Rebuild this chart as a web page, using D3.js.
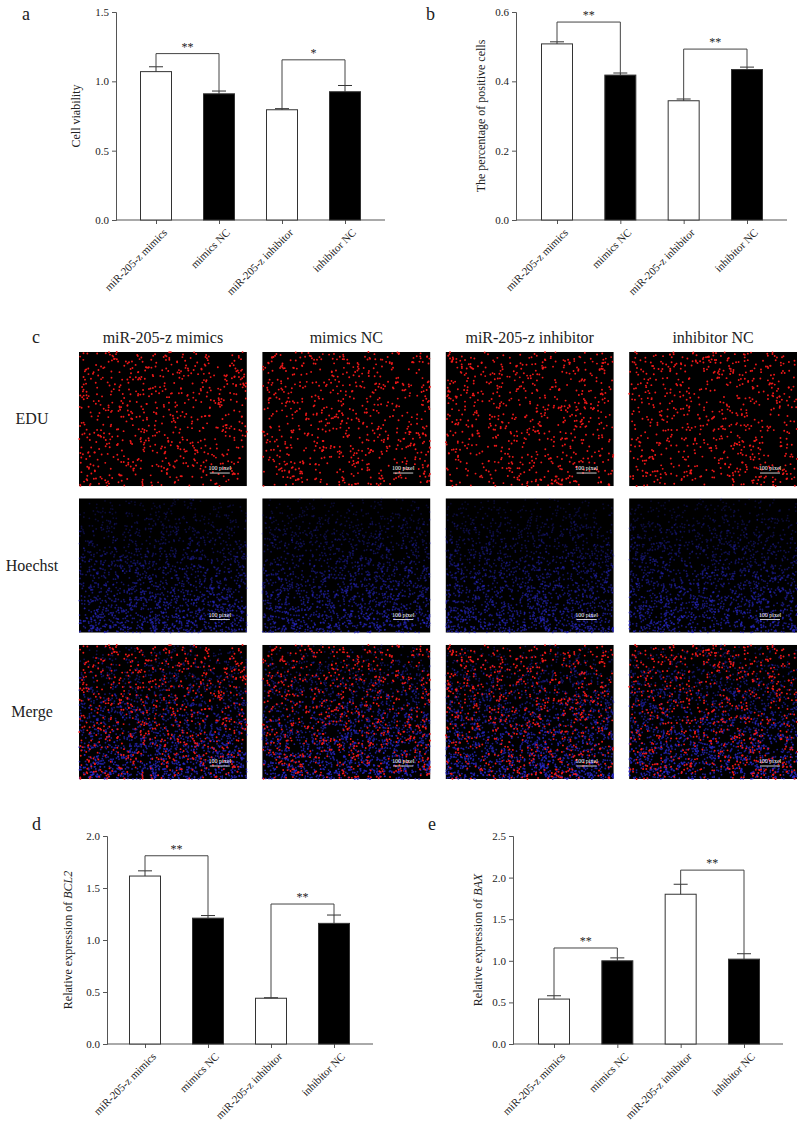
<!DOCTYPE html>
<html><head><meta charset="utf-8">
<script src="https://cdn.jsdelivr.net/npm/d3@7"></script>
<style>body{margin:0;background:#fff}svg{display:block}text{font-family:"Liberation Serif","Times New Roman",serif;fill:#222}</style>
</head><body>
<svg id="c" width="800" height="1127"></svg>
<script>
const categories = ["miR-205-z mimics","mimics NC","miR-205-z inhibitor","inhibitor NC"];
const fills = ["#fff","#000","#fff","#000"];
// panel a
const viabilityMean = [1.07,0.91,0.795,0.925];
const viabilityErr = [0.035,0.02,0.008,0.045];
const viabilityTicks = [0,0.5,1.0,1.5];
// panel b
const positiveMean = [0.508,0.418,0.344,0.434];
const positiveErr = [0.006,0.006,0.005,0.007];
const positiveTicks = [0,0.2,0.4,0.6];
// panel d
const bcl2Mean = [1.615,1.21,0.44,1.16];
const bcl2Err = [0.05,0.025,0.005,0.08];
const bcl2Ticks = [0,0.5,1.0,1.5,2.0];
// panel e
const baxMean = [0.54,1.0,1.8,1.02];
const baxErr = [0.04,0.035,0.12,0.065];
const baxTicks = [0,0.5,1.0,1.5,2.0,2.5];
// panel c
const imageCols = ["miR-205-z mimics","mimics NC","miR-205-z inhibitor","inhibitor NC"];
const imageRows = ["EDU","Hoechst","Merge"];

const svg = d3.select("#c");

function barPanel(o){
  const g = svg.append("g");
  const y = d3.scaleLinear().domain([0,o.max]).range([o.y0,o.y1]);
  const x = d3.scalePoint().domain(categories).range([o.cx0,o.cx1]);
  const bw = 31;
  const ya = g.append("g").attr("transform",`translate(${o.ax},0)`).call(d3.axisLeft(y).tickValues(o.ticks).tickFormat(d3.format(".1f")).tickSize(4));
  ya.select(".domain").attr("stroke","#555");
  ya.selectAll(".tick line").attr("stroke","#555");
  ya.selectAll("text").attr("font-size",11).attr("font-family","Liberation Serif").attr("fill","#222");
  const xa = g.append("g").attr("transform",`translate(0,${o.y0})`).call(d3.axisBottom(x).tickSize(4).tickSizeOuter(0));
  xa.select(".domain").attr("d",`M${o.ax},0H${o.xend}`).attr("stroke","#555");
  xa.selectAll(".tick line").attr("stroke","#555");
  xa.selectAll("text").attr("font-size",11).attr("font-family","Liberation Serif").attr("fill","#222")
    .attr("text-anchor","end").attr("dy","0.3em").attr("transform","translate(4,6) rotate(-45)");
  categories.forEach((c,i)=>{
    const cx = x(c);
    g.append("rect").attr("x",cx-bw/2).attr("y",y(o.mean[i])).attr("width",bw).attr("height",o.y0-y(o.mean[i]))
      .attr("fill",fills[i]).attr("stroke","#333").attr("stroke-width",1);
    const top = y(o.mean[i]+o.err[i]);
    g.append("line").attr("x1",cx).attr("x2",cx).attr("y1",y(o.mean[i])).attr("y2",top).attr("stroke","#333");
    g.append("line").attr("x1",cx-7).attr("x2",cx+7).attr("y1",top).attr("y2",top).attr("stroke","#333");
  });
  o.brackets.forEach(b=>{
    const [i,j,v,s]=b;
    const xi=x(categories[i]), xj=x(categories[j]), yb=y(v);
    g.append("path").attr("d",`M${xi},${y(o.mean[i]+o.err[i])}V${yb}H${xj}V${y(o.mean[j]+o.err[j])}`)
      .attr("fill","none").attr("stroke","#444");
    g.append("text").attr("x",(xi+xj)/2).attr("y",yb-3).attr("text-anchor","middle").attr("font-size",12).text(s);
  });
  const yl = g.append("text").attr("transform",`translate(${o.ylx},${(o.y0+o.y1)/2}) rotate(-90)`)
    .attr("text-anchor","middle").attr("font-size",12);
  o.ylab(yl);
  g.append("text").attr("x",o.lx).attr("y",o.ly).attr("font-size",18).text(o.letter);
}

barPanel({max:1.5,ticks:viabilityTicks,mean:viabilityMean,err:viabilityErr,y0:220,y1:12,ax:116,xend:385,cx0:156,cx1:345,
  brackets:[[0,1,1.2,"**"],[2,3,1.155,"*"]],ylx:80,ylab:t=>t.text("Cell viability"),letter:"a",lx:22,ly:20});
barPanel({max:0.6,ticks:positiveTicks,mean:positiveMean,err:positiveErr,y0:220,y1:12,ax:516,xend:787,cx0:557,cx1:747,
  brackets:[[0,1,0.571,"**"],[2,3,0.493,"**"]],ylx:485,ylab:t=>t.text("The percentage of positive cells"),letter:"b",lx:426,ly:20});
barPanel({max:2.0,ticks:bcl2Ticks,mean:bcl2Mean,err:bcl2Err,y0:1044,y1:836,ax:107,xend:373,cx0:145,cx1:334,
  brackets:[[0,1,1.81,"**"],[2,3,1.346,"**"]],ylx:72,ylab:t=>{t.append("tspan").text("Relative expression of ");t.append("tspan").attr("font-style","italic").text("BCL2");},letter:"d",lx:32,ly:830});
barPanel({max:2.5,ticks:baxTicks,mean:baxMean,err:baxErr,y0:1044,y1:836,ax:513,xend:783,cx0:554,cx1:744,
  brackets:[[0,1,1.154,"**"],[2,3,2.09,"**"]],ylx:482,ylab:t=>{t.append("tspan").text("Relative expression of ");t.append("tspan").attr("font-style","italic").text("BAX");},letter:"e",lx:428,ly:830});

// panel c - micrographs (decorative texture from seeded generator)
let seed = 12345;
function rnd(){ seed = (seed*1664525+1013904223)>>>0; return seed/4294967296; }
const colX = d3.scaleBand().domain(imageCols).range([79,797]).paddingInner(0.085);
const rowY = d3.scaleBand().domain(imageRows).range([352,779]).paddingInner(0.085);
svg.append("text").attr("x",32).attr("y",343).attr("font-size",18).text("c");
imageCols.forEach(c=>svg.append("text").attr("x",colX(c)+colX.bandwidth()/2).attr("y",343).attr("text-anchor","middle").attr("font-size",16).text(c));
imageRows.forEach(r=>svg.append("text").attr("x",32).attr("y",rowY(r)+rowY.bandwidth()/2+5).attr("text-anchor","middle").attr("font-size",16).text(r));
imageCols.forEach((c,ci)=>{
  const x0=colX(c), w=colX.bandwidth();
  const s0 = ci*1000+7;
  imageRows.forEach((r,ri)=>{
    const y0=rowY(r), h=rowY.bandwidth();
    const g=svg.append("g");
    g.append("rect").attr("x",x0).attr("y",y0).attr("width",w).attr("height",h).attr("fill","#000");
    if(ri>=1){
      seed = s0+99;
      let blue = [];
      for(let k=0;k<1800;k++){const u=rnd(),v=Math.pow(rnd(),0.7);blue.push([u,v]);}
      g.selectAll(null).data(blue).join("circle").attr("cx",d=>x0+d[0]*w).attr("cy",d=>y0+d[1]*h).attr("r",0.9)
        .attr("fill","#2a2ad0").attr("opacity",d=>(ri===2?0.35:0.2)+0.45*d[1]);
    }
    if(ri!==1){
      seed = s0;
      let red=[];
      for(let k=0;k<700;k++){red.push([rnd(),rnd()]);}
      g.selectAll(null).data(red).join("circle").attr("cx",d=>x0+d[0]*w).attr("cy",d=>y0+d[1]*h).attr("r",0.95).attr("fill","#f01818");
    }
    g.append("text").attr("x",x0+w-27).attr("y",y0+h-16).attr("text-anchor","middle").attr("font-size",6).style("fill","#fff").text("100 pixel");
    g.append("line").attr("x1",x0+w-37).attr("x2",x0+w-17).attr("y1",y0+h-13).attr("y2",y0+h-13).attr("stroke","#fff").attr("stroke-width",0.8);
  });
});
</script>
</body></html>
